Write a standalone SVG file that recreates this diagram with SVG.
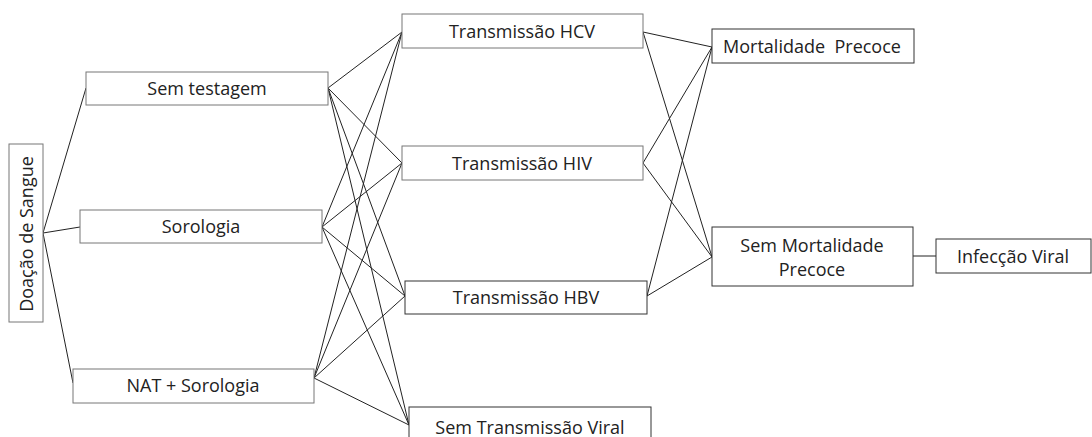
<svg xmlns="http://www.w3.org/2000/svg" width="1092" height="437" viewBox="0 0 1092 437">
<style>
.box{fill:#fff;stroke:#333;stroke-width:1}
.lt{stroke:#777}
.t{font-family:"Open Sans","Liberation Sans",sans-serif;font-size:18px;fill:#222;text-anchor:middle}
.c line{stroke:#222;stroke-width:1}
</style>
<rect width="1092" height="437" fill="#fff"/>
<g class="c" id="connectors">
<line x1="43" y1="233" x2="86" y2="88"/>
<line x1="43" y1="233" x2="80" y2="227"/>
<line x1="43" y1="233" x2="73" y2="383"/>
<line x1="328" y1="88" x2="402" y2="32"/>
<line x1="328" y1="88" x2="402" y2="163"/>
<line x1="328" y1="88" x2="405" y2="296"/>
<line x1="328" y1="88" x2="409" y2="425"/>
<line x1="322" y1="227" x2="402" y2="32"/>
<line x1="322" y1="227" x2="402" y2="163"/>
<line x1="322" y1="227" x2="405" y2="296"/>
<line x1="322" y1="227" x2="409" y2="425"/>
<line x1="314" y1="378" x2="402" y2="32"/>
<line x1="314" y1="378" x2="402" y2="163"/>
<line x1="314" y1="378" x2="405" y2="296"/>
<line x1="314" y1="378" x2="409" y2="425"/>
<line x1="643" y1="32" x2="712" y2="47"/>
<line x1="643" y1="32" x2="712" y2="257"/>
<line x1="643" y1="163" x2="712" y2="47"/>
<line x1="643" y1="163" x2="712" y2="257"/>
<line x1="647" y1="296" x2="712" y2="47"/>
<line x1="647" y1="296" x2="712" y2="257"/>
<line x1="913" y1="256" x2="936" y2="256"/>
</g>
<g id="doacao"><rect class="box lt" x="9" y="144" width="34" height="178"/><text class="t" transform="translate(33,234) rotate(-90)">Doação de Sangue</text></g>
<g id="sem-testagem"><rect class="box lt" x="86" y="72" width="242" height="33"/><text class="t" x="207" y="95">Sem testagem</text></g>
<g id="sorologia"><rect class="box lt" x="80" y="210" width="242" height="33"/><text class="t" x="201" y="233">Sorologia</text></g>
<g id="nat"><rect class="box lt" x="73" y="369" width="241" height="34"/><text class="t" x="193" y="392">NAT + Sorologia</text></g>
<g id="hcv"><rect class="box lt" x="402" y="14" width="241" height="34"/><text class="t" x="522" y="38">Transmissão HCV</text></g>
<g id="hiv"><rect class="box lt" x="402" y="146" width="241" height="34"/><text class="t" x="522" y="170">Transmissão HIV</text></g>
<g id="hbv"><rect class="box" x="405" y="281" width="242" height="33"/><text class="t" x="526" y="304">Transmissão HBV</text></g>
<g id="sem-transmissao"><rect class="box" x="409" y="407" width="242" height="40"/><text class="t" x="530" y="434">Sem Transmissão Viral</text></g>
<g id="mortalidade"><rect class="box" x="712" y="29" width="202" height="34"/><text class="t" x="812" y="53" style="white-space:pre">Mortalidade  Precoce</text></g>
<g id="sem-mortalidade"><rect class="box" x="712" y="227" width="201" height="59"/><text class="t" x="812" y="252">Sem Mortalidade</text><text class="t" x="812" y="276">Precoce</text></g>
<g id="infeccao"><rect class="box" x="936" y="239" width="155" height="34"/><text class="t" x="1013" y="263">Infecção Viral</text></g>
</svg>
